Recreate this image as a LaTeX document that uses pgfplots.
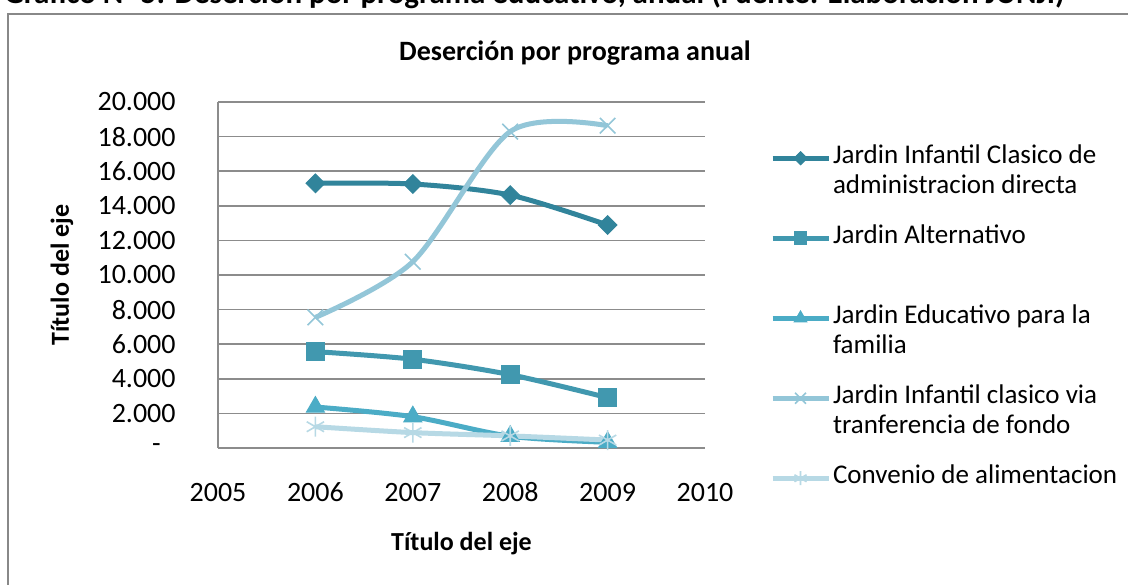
\documentclass[border=0pt]{standalone}
\usepackage{pgfplots}
\pgfplotsset{compat=1.18}
\usepackage{fontspec}
\setmainfont{Carlito}
\definecolor{c1}{HTML}{31849B}
\definecolor{c2}{HTML}{4198AF}
\definecolor{c3}{HTML}{4BACC6}
\definecolor{c4}{HTML}{93C6D8}
\definecolor{c5}{HTML}{B7D9E5}
\definecolor{gridc}{HTML}{8C8C8C}
\definecolor{framec}{HTML}{888888}
\newcommand\ls{\rule[-4pt]{0pt}{14pt}}
\newcommand\lt[1]{\parbox[t]{150pt}{\raggedright #1}}
\begin{document}
\begin{tikzpicture}
\fill[white] (0,0) rectangle (564pt,-292pt);
\node[anchor=base east, font=\fontsize{15.5}{17}\selectfont\bfseries, inner sep=0pt] at (532.5pt,-1.5pt) {Gráfico N° 5: Deserción por programa educativo, anual (Fuente: Elaboración JUNJI)};
\draw[framec, line width=1pt] (4pt,-300pt) -- (4pt,-7pt) -- (570pt,-7pt);
\node[font=\fontsize{14}{16}\selectfont\bfseries] at (287.5pt,-26.5pt) {Deserción por programa anual};
\node[font=\fontsize{13}{15}\selectfont\bfseries, rotate=90] at (31pt,-137.5pt) {Título del eje};
\node[font=\fontsize{13}{15}\selectfont\bfseries] at (230.75pt,-272pt) {Título del eje};
\begin{axis}[
  at={(109pt,-224pt)}, anchor=south west,
  scale only axis, width=243.5pt, height=173pt,
  xmin=2005, xmax=2010, ymin=0, ymax=20000,
  scaled y ticks=false, scaled x ticks=false,
  axis x line*=bottom, axis y line*=left,
  x axis line style={draw=none},
  y axis line style={draw=gridc, line width=0.75pt},
  xtick={2005,2006,2007,2008,2009,2010},
  xticklabels={2005,2006,2007,2008,2009,2010},
  ytick={0,2000,4000,6000,8000,10000,12000,14000,16000,18000,20000},
  yticklabels={{-\kern7.5pt},2.000,4.000,6.000,8.000,10.000,12.000,14.000,16.000,18.000,20.000},
  major tick length=0pt,
  ymajorgrids, grid style={draw=gridc, line width=0.75pt},
  tick label style={font=\fontsize{14}{16}\selectfont, inner sep=0pt},
  xticklabel style={anchor=center, yshift=-22pt},
  yticklabel style={anchor=east, xshift=-21pt},
  clip=false,
  legend style={at={(1.1335,0.9046)}, anchor=north west, draw=none, fill=none,
    inner sep=0pt, outer sep=0pt, font=\fontsize{13.5}{15}\selectfont,
    row sep=7pt, column sep=1pt,
    nodes={inner sep=0pt, text height=14pt, text depth=19pt},
    cells={anchor=mid west}},
  legend image code/.code={
    \draw[mark repeat=2, mark phase=2, #1, every mark/.append style={scale=0.7}] plot coordinates {(0pt,0pt) (14pt,0pt) (28pt,0pt)};
  },
]
\addplot[color=c1, line width=2.5pt, smooth, mark=square*, mark size=3.3pt,
  mark options={rotate=45, solid, line width=0.5pt, fill=c1}]
  coordinates {(2006,15300) (2007,15260) (2008,14620) (2009,12890)};
\addlegendentry{\lt{Jardin Infantil Clasico de\ls\\administracion directa\ls}}
\addplot[color=c2, line width=2.5pt, smooth, mark=square*, mark size=4.5pt,
  mark options={solid, line width=0.5pt, fill=c2}]
  coordinates {(2006,5570) (2007,5130) (2008,4240) (2009,2910)};
\addlegendentry{\lt{Jardin Alternativo\ls\\\ls}}
\addplot[color=c3, line width=2.5pt, smooth, mark=triangle*, mark size=5.2pt,
  mark options={solid, line width=0.5pt, fill=c3}]
  coordinates {(2006,2370) (2007,1810) (2008,680) (2009,330)};
\addlegendentry{\lt{Jardin Educativo para la\ls\\familia\ls}}
\addplot[color=c4, line width=2.5pt, smooth, mark=x, mark size=5.5pt,
  mark options={solid, line width=0.8pt}]
  coordinates {(2006,7550) (2007,10770) (2008,18290) (2009,18630)};
\addlegendentry{\lt{Jardin Infantil clasico via\ls\\tranferencia de fondo\ls}}
\addplot[color=c5, line width=2.5pt, smooth, mark=asterisk, mark size=5pt,
  mark options={solid, line width=0.8pt}]
  coordinates {(2006,1230) (2007,890) (2008,700) (2009,460)};
\addlegendentry{\lt{Convenio de alimentacion\ls\\\ls}}
\end{axis}
\pgfresetboundingbox
\useasboundingbox (0,0) rectangle (564pt,-292pt);
\end{tikzpicture}
\end{document}
